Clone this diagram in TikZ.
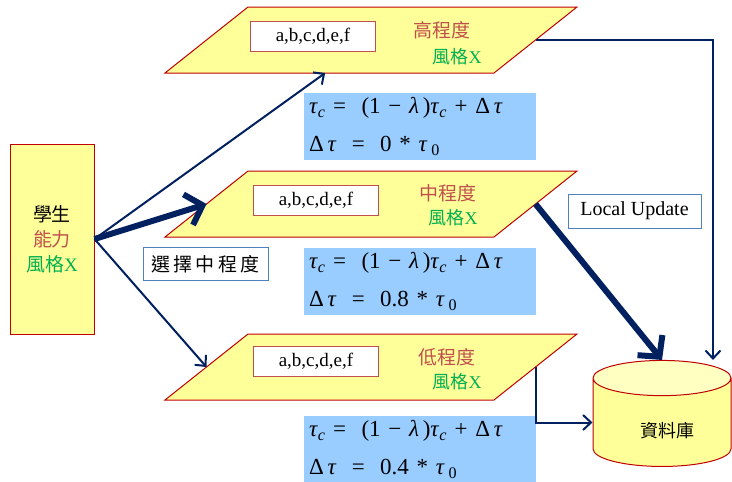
\documentclass[tikz,border=0pt]{standalone}
\usepackage{fontspec}
\setmainfont{Liberation Serif}
\newfontfamily\cjk{Noto Sans CJK TC}
\usetikzlibrary{shapes.geometric, arrows.meta, positioning}
\definecolor{navy}{HTML}{002060}
\definecolor{boxred}{HTML}{C00000}
\definecolor{softred}{HTML}{C0504D}
\definecolor{paleyellow}{HTML}{FFFF99}
\definecolor{skyblue}{HTML}{99CCFF}
\definecolor{labelblue}{HTML}{4F81BD}
\definecolor{stylegreen}{HTML}{00B050}
\newcommand{\tauc}{\textit{τ}\textsubscript{\textit{c}}}
\newcommand{\rulelines}[1]{\tauc\ = \ (1 − \textit{λ}\,)\tauc\ + Δ\,\textit{τ}\\Δ\,\textit{τ}\ \ =\ \ #1\ *\ \textit{τ}\,\textsubscript{0}}

\tikzset{
  level/.style={draw=boxred, fill=paleyellow, line width=1pt, rectangle, transform shape,
    xslant=1.258, minimum width=329pt, minimum height=66pt, inner sep=0pt, outer sep=0pt},
  valbox/.style={draw=softred, fill=white, line width=1pt, minimum width=125pt,
    minimum height=30pt, inner sep=0pt, font=\fontsize{19}{21}\selectfont},
  degree/.style={text=softred, font=\fontsize{19}{22}\selectfont\cjk},
  flavour/.style={text=stylegreen, font=\fontsize{18}{22}\selectfont\cjk},
  formula/.style={fill=skyblue, minimum width=232pt, minimum height=67pt, inner sep=0pt,
    text width=222pt, align=left, font=\fontsize{23}{38}\selectfont},
  tag/.style={draw=labelblue, fill=white, line width=0.8pt, inner sep=0pt},
  link/.style={draw=navy, line width=2pt, ->},
  biglink/.style={draw=navy, line width=6pt, -{Straight Barb[length=15pt,width=32pt]}},
}

\begin{document}
\begin{tikzpicture}[x=1pt, y=-1pt, >={Straight Barb[length=8pt,width=15pt]}]
    \useasboundingbox (0,0) rectangle (732,482);

    % student
    \node (Student) [draw=boxred, fill=paleyellow, line width=1pt, minimum width=84pt, minimum height=190pt,
        align=center, font=\fontsize{19}{25}\selectfont\cjk] at (52,239)
        {學生\\\textcolor{softred}{能力}\\\textcolor{stylegreen}{風格\textrm{X}}};

    % three levels
    \node (High) [level] at (371,40) {};
    \node (HighVal) [valbox] at ([xshift=-58pt, yshift=4pt]High.center) {a,b,c,d,e,f};
    \node (HighDeg) [degree] at ([xshift=71pt, yshift=10pt]High.center) {高程度};
    \node (HighSty) [flavour] at ([xshift=86pt, yshift=-17pt]High.center) {風格\textrm{X}};

    \node (Mid) [level] at (371,204) {};
    \node (MidVal) [valbox] at ([xshift=-55pt, yshift=4pt]Mid.center) {a,b,c,d,e,f};
    \node (MidDeg) [degree] at ([xshift=77pt, yshift=11pt]Mid.center) {中程度};
    \node (MidSty) [flavour] at ([xshift=82pt, yshift=-14pt]Mid.center) {風格\textrm{X}};

    \node (Low) [level] at (371,367) {};
    \node (LowVal) [valbox] at ([xshift=-55pt, yshift=6pt]Low.center) {a,b,c,d,e,f};
    \node (LowDeg) [degree] at ([xshift=76pt, yshift=10pt]Low.center) {低程度};
    \node (LowSty) [flavour] at ([xshift=86pt, yshift=-15pt]Low.center) {風格\textrm{X}};

    % update rules
    \node (HighRule) [formula] at (420,126.5) {\rulelines{0}};
    \node (MidRule) [formula] at (420,281.5) {\rulelines{0.8}};
    \node (LowRule) [formula] at (420,449.5) {\rulelines{0.4}};

    % database
    \node (DB) [cylinder, shape border rotate=90, draw=boxred, line width=1pt, aspect=0.55,
        cylinder uses custom fill, cylinder body fill=paleyellow, cylinder end fill=paleyellow!60,
        minimum height=106pt, minimum width=138pt, inner sep=0pt, font=\fontsize{18}{20}\selectfont\cjk]
        at (662,422.5) {\raisebox{-15pt}[0pt][0pt]{\hspace*{10pt}資料庫}};

    % labels
    \node (Pick) [tag, minimum width=125pt, minimum height=33pt, font=\fontsize{19}{22}\selectfont\cjk] at (205.5,264) {選\,擇\,中\,程\,度};
    \node (Local) [tag, minimum width=133pt, minimum height=34pt, font=\fontsize{20}{22}\selectfont] at (634.5,211) {Local Update};

    % connectors
    \draw[link] (Student.east) -- (High);
    \draw[biglink] (Student.east) -- (Mid.west);
    \draw[link] (Student.east) -- (Low.west);
    \draw[link] (High.east) -| ([xshift=51pt]DB.north);
    \draw[biglink] (Mid.east) -- (DB.north);
    \draw[link] (Low.east) |- (DB.west);
\end{tikzpicture}
\end{document}
